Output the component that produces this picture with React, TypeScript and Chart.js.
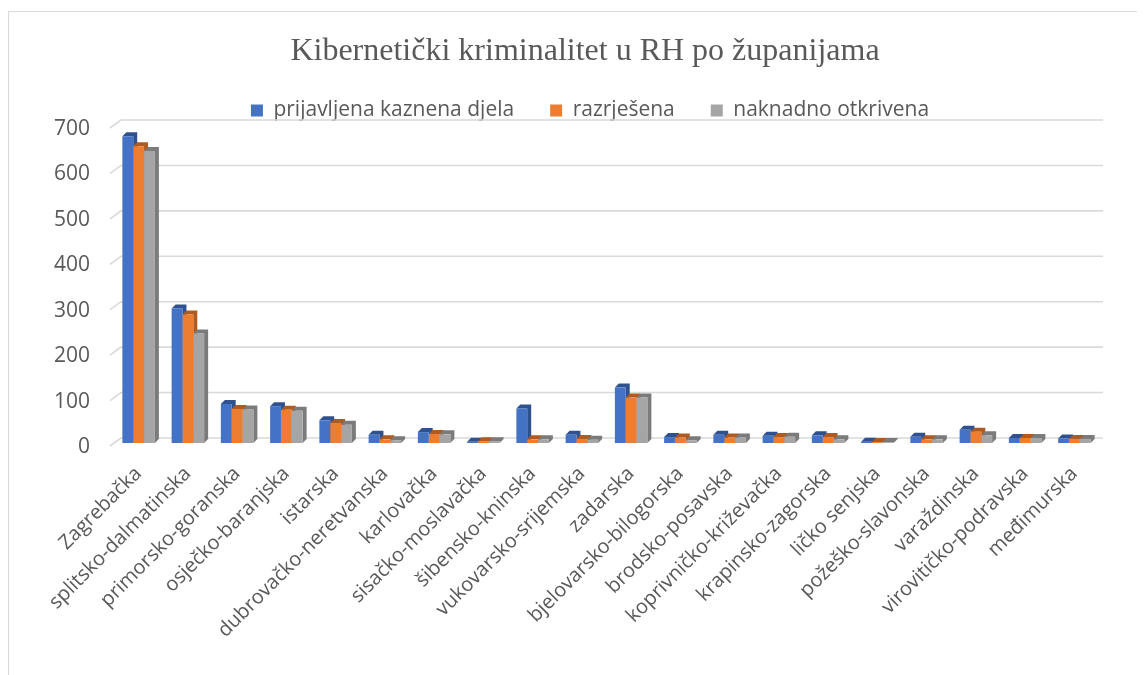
import { useEffect, useRef } from "react";
import { Chart, registerables } from "chart.js";

Chart.register(...registerables);

const chartTitle = "Kibernetički kriminalitet u RH po županijama";

const counties = [
  "Zagrebačka",
  "splitsko-dalmatinska",
  "primorsko-goranska",
  "osječko-baranjska",
  "istarska",
  "dubrovačko-neretvanska",
  "karlovačka",
  "sisačko-moslavačka",
  "šibensko-kninska",
  "vukovarsko-srijemska",
  "zadarska",
  "bjelovarsko-bilogorska",
  "brodsko-posavska",
  "koprivničko-križevačka",
  "krapinsko-zagorska",
  "ličko senjska",
  "požeško-slavonska",
  "varaždinska",
  "virovitičko-podravska",
  "međimurska",
];

const seriesNames = ["prijavljena kaznena djela", "razrješena", "naknadno otkrivena"];

const reported = [675, 296, 86, 81, 50, 18, 24, 3, 76, 18, 122, 13, 18, 16, 17, 3, 14, 29, 11, 10];
const solved = [653, 283, 75, 73, 44, 8, 20, 4, 8, 9, 100, 12, 12, 13, 13, 2, 8, 25, 11, 9];
const discovered = [643, 241, 74, 71, 40, 6, 19, 4, 8, 7, 100, 6, 12, 14, 8, 2, 8, 17, 11, 9];

const yMin = 0;
const yMax = 700;
const yStep = 100;

const fronts = ["#4472C4", "#ED7D31", "#A5A5A5"];
const sides = ["#2F528F", "#AE5A21", "#7B7B7B"];

const textColor = "#595959";
const gridColor = "#D9D9D9";

const headerShift = {
  id: "headerShift",
  afterLayout(chart: any) {
    const lg = chart.legend;
    if (lg) {
      lg.top += 6;
      lg.bottom += 6;
      lg.left += 36;
      lg.right += 36;
    }
    const tb = chart.titleBlock;
    if (tb) {
      tb.left += 31;
      tb.right += 31;
    }
  },
};

const depthPlugin = {
  id: "depth3d",
  beforeDatasetsDraw(chart: any) {
    const ctx = chart.ctx;
    const area = chart.chartArea;
    const yScale = chart.scales.y;
    ctx.save();
    ctx.strokeStyle = gridColor;
    ctx.lineWidth = 1.6;
    yScale.ticks.forEach((t: any) => {
      const py = yScale.getPixelForValue(t.value);
      ctx.beginPath();
      ctx.moveTo(area.left - 4, py + 3);
      ctx.lineTo(area.left + 7, py - 5);
      ctx.lineTo(area.right + 4, py - 5);
      ctx.stroke();
    });
    const d = 4;
    chart.data.datasets.forEach((ds: any, i: number) => {
      const meta = chart.getDatasetMeta(i);
      meta.data.forEach((bar: any) => {
        const w = bar.width;
        const l = bar.x - w / 2;
        const r = bar.x + w / 2;
        const top = bar.y;
        const base = bar.base;
        ctx.fillStyle = sides[i];
        ctx.beginPath();
        ctx.moveTo(r, base);
        ctx.lineTo(r + d, base - d);
        ctx.lineTo(r + d, top - d);
        ctx.lineTo(l + d, top - d);
        ctx.lineTo(l, top);
        ctx.lineTo(r, top);
        ctx.closePath();
        ctx.fill();
      });
    });
    ctx.restore();
  },
};

export default function App() {
  const canvasRef = useRef<HTMLCanvasElement | null>(null);

  useEffect(() => {
    document.documentElement.style.overflow = "hidden";
    const canvas = canvasRef.current;
    if (!canvas) return;
    const chart = new Chart(canvas, {
      type: "bar",
      data: {
        labels: counties,
        datasets: [
          { label: seriesNames[0], data: reported, backgroundColor: fronts[0] },
          { label: seriesNames[1], data: solved, backgroundColor: fronts[1] },
          { label: seriesNames[2], data: discovered, backgroundColor: fronts[2] },
        ],
      },
      options: {
        animation: false,
        responsive: true,
        maintainAspectRatio: false,
        devicePixelRatio: 1,
        layout: { padding: { left: 0, right: 46, top: 0, bottom: 0 } },
        datasets: {
          bar: { categoryPercentage: 0.66, barPercentage: 1.0 },
        },
        plugins: {
          title: {
            display: true,
            text: chartTitle,
            color: textColor,
            font: { family: "'Liberation Serif', 'Times New Roman', serif", size: 32, weight: "normal", lineHeight: 1.125 },
            padding: { top: 22, bottom: -12 },
          },
          legend: {
            display: true,
            position: "top",
            labels: {
              color: textColor,
              font: { family: "'Open Sans', sans-serif", size: 21 },
              boxWidth: 12,
              boxHeight: 12,
              padding: 36,
            },
          },
          tooltip: { enabled: false },
        },
        scales: {
          x: {
            grid: { display: false, drawTicks: false },
            border: { display: false },
            ticks: {
              color: textColor,
              font: { family: "'Open Sans', sans-serif", size: 20 },
              minRotation: 45,
              maxRotation: 45,
              autoSkip: false,
              padding: 19,
            },
            afterFit: (s: any) => {
              s.height = 232;
            },
          },
          y: {
            min: yMin,
            max: yMax,
            grid: { display: false, drawTicks: false },
            border: { display: false },
            ticks: {
              stepSize: yStep,
              color: textColor,
              font: { family: "'Open Sans', sans-serif", size: 21 },
              padding: 24,
              labelOffset: 4,
            },
            afterFit: (s: any) => {
              s.width = 105;
            },
          },
        },
      },
      plugins: [depthPlugin, headerShift],
    });
    return () => chart.destroy();
  }, []);

  return (
    <div
      style={{
        position: "relative",
        width: 1137,
        height: 664,
        marginTop: 3,
        boxSizing: "border-box",
        borderLeft: "1px solid #D9D9D9",
        borderTop: "1px solid #D9D9D9",
        background: "#fff",
      }}
    >
      <canvas ref={canvasRef} />
    </div>
  );
}
